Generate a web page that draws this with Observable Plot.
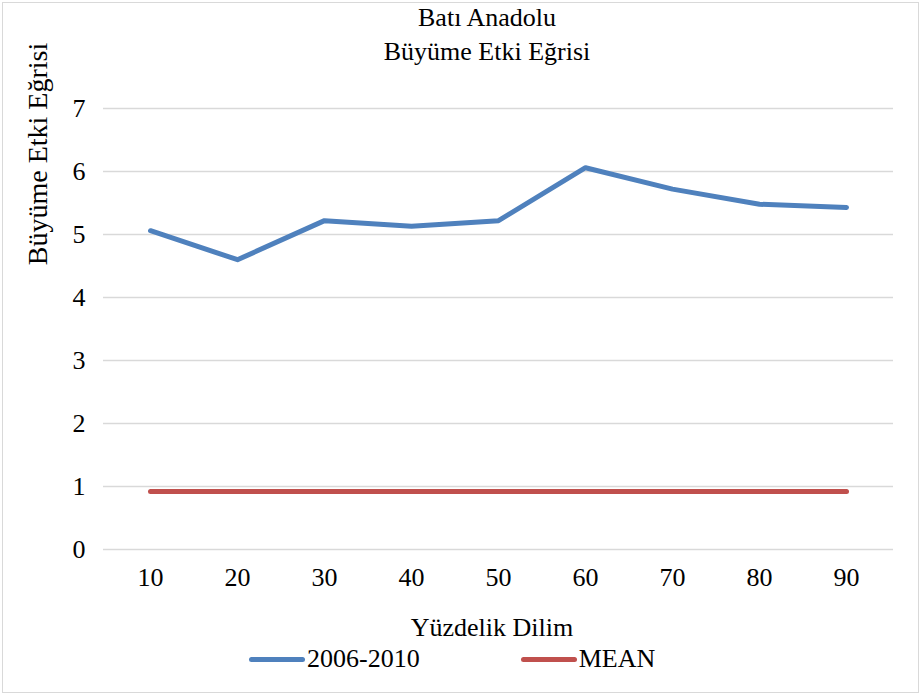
<!DOCTYPE html>
<html><head><meta charset="utf-8">
<script src="https://cdn.jsdelivr.net/npm/d3@7"></script>
<script src="https://cdn.jsdelivr.net/npm/@observablehq/plot@0.6"></script>
<style>
body{margin:0;background:#fff;font-family:"Liberation Serif","Times New Roman",serif;color:#000;}
#wrap{position:relative;width:921px;height:695px;overflow:hidden;}
#frame{position:absolute;left:2px;top:2px;width:917px;height:691px;border:1px solid #d9d9d9;box-sizing:border-box;pointer-events:none;}
#chart{position:absolute;left:0;top:0;}
.t{position:absolute;font-family:"Liberation Serif",serif;font-size:26px;white-space:nowrap;text-align:center;line-height:30px;}
#ylab{position:absolute;left:-112px;top:139px;width:300px;height:30px;font-family:"Liberation Serif",serif;font-size:28px;line-height:30px;text-align:center;transform:rotate(-90deg);white-space:nowrap;}
#legend{position:absolute;top:644px;left:249px;display:flex;align-items:center;font-family:"Liberation Serif",serif;font-size:26px;line-height:30px;}
.sw{display:inline-block;width:56px;height:5px;border-radius:3px;margin-right:2px;}
</style></head>
<body>
<div id="wrap">
  <div id="chart"></div>
  <div class="t" style="left:337px;width:300px;top:3px;">Batı Anadolu</div>
  <div class="t" style="left:337px;width:300px;top:37px;">Büyüme Etki Eğrisi</div>
  <div id="ylab">Büyüme Etki Eğrisi</div>
  <div class="t" style="left:342px;width:300px;top:613px;">Yüzdelik Dilim</div>
  <div id="legend"></div>
  <div id="frame"></div>
</div>
<script>
const percentiles = [10, 20, 30, 40, 50, 60, 70, 80, 90];
const series2006_2010 = [5.06, 4.60, 5.22, 5.13, 5.22, 6.06, 5.72, 5.48, 5.43];
const meanValues = [0.92, 0.92, 0.92, 0.92, 0.92, 0.92, 0.92, 0.92, 0.92];
const yTicks = [0, 1, 2, 3, 4, 5, 6, 7];
const seriesNames = ["2006-2010", "MEAN"];
const seriesColors = ["#4f81bd", "#c0504d"];

const rows = [];
percentiles.forEach((p, i) => {
  rows.push({x: p, y: series2006_2010[i], s: seriesNames[0]});
  rows.push({x: p, y: meanValues[i], s: seriesNames[1]});
});

const chart = Plot.plot({
  width: 921,
  height: 600,
  marginTop: 108,
  marginBottom: 51,
  marginLeft: 103,
  marginRight: 28,
  style: {fontFamily: '"Liberation Serif", serif', fontSize: "26px", color: "#000", background: "transparent"},
  x: {type: "point", domain: percentiles, padding: 0.5, label: null},
  y: {domain: [0, 7], label: null},
  color: {domain: seriesNames, range: seriesColors},
  marks: [
    Plot.gridY(yTicks, {stroke: "#d9d9d9", strokeOpacity: 1, strokeWidth: 1.5}),
    Plot.axisX({tickSize: 0, tickPadding: 18, label: null, fontSize: 26, tickFormat: d3.format("d")}),
    Plot.axisY(yTicks, {tickSize: 0, tickPadding: 18, label: null, fontSize: 26, tickFormat: d3.format("d")}),
    Plot.line(rows, {x: "x", y: "y", z: "s", stroke: "s", strokeWidth: 5, strokeLinecap: "round", strokeLinejoin: "round"})
  ]
});
document.getElementById("chart").appendChild(chart);

const legend = document.getElementById("legend");
seriesNames.forEach((name, i) => {
  const item = document.createElement("div");
  item.style.display = "flex";
  item.style.alignItems = "center";
  item.style.marginRight = i === 0 ? "101px" : "0";
  const sw = document.createElement("span");
  sw.className = "sw";
  sw.style.background = seriesColors[i];
  const lab = document.createElement("span");
  lab.textContent = name;
  item.appendChild(sw);
  item.appendChild(lab);
  legend.appendChild(item);
});
</script>
</body></html>
